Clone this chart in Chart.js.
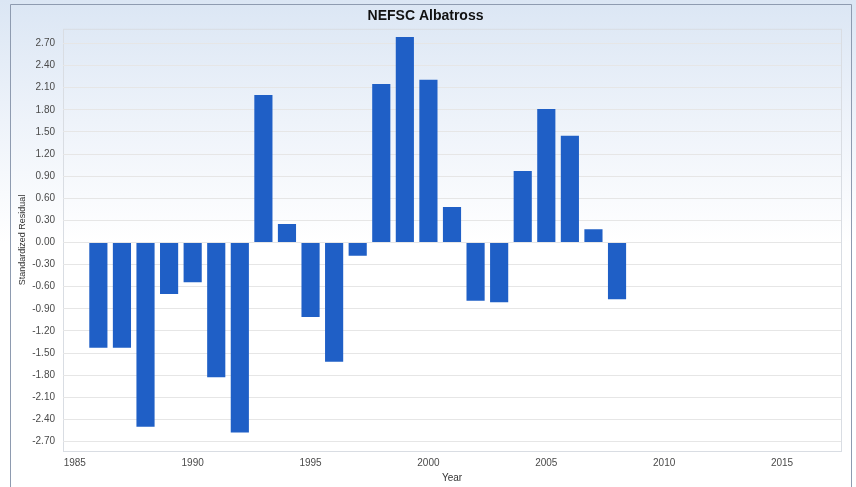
<!DOCTYPE html>
<html>
<head>
<meta charset="utf-8">
<script src="https://cdn.jsdelivr.net/npm/chart.js@4"></script>
<style>
  html, body { margin: 0; padding: 0; background: #ffffff; }
  #wrap { width: 856px; height: 487px; }
</style>
</head>
<body>
<div id="wrap"><canvas id="residChart" width="856" height="487"></canvas></div>
<script>
// survey years and standardized residuals
const years = [1986, 1987, 1988, 1989, 1990, 1991, 1992, 1993, 1994, 1995, 1996, 1997,
  1998, 1999, 2000, 2001, 2002, 2003, 2004, 2005, 2006, 2007, 2008];
const residuals = [-1.43, -1.43, -2.50, -0.70, -0.54, -1.83, -2.58, 2.00, 0.25, -1.01, -1.62, -0.18,
  2.15, 2.79, 2.21, 0.48, -0.79, -0.81, 0.97, 1.81, 1.45, 0.18, -0.77];

// axis ticks
const yTicks = [-2.70, -2.40, -2.10, -1.80, -1.50, -1.20, -0.90, -0.60, -0.30, 0.00,
  0.30, 0.60, 0.90, 1.20, 1.50, 1.80, 2.10, 2.40, 2.70];
const xTicks = [1985, 1990, 1995, 2000, 2005, 2010, 2015];

// background + frame
const backdrop = {
  id: 'backdrop',
  beforeDraw(chart) {
    const { ctx, width, height, chartArea } = chart;
    ctx.save();
    const g = ctx.createLinearGradient(0, 0, 0, height);
    g.addColorStop(0, '#dbe6f4');
    g.addColorStop(0.25, '#eef3fa');
    g.addColorStop(0.5, '#ffffff');
    g.addColorStop(1, '#ffffff');
    ctx.fillStyle = g;
    ctx.fillRect(0, 0, width, height);
    ctx.strokeStyle = '#8e9bb0';
    ctx.lineWidth = 1;
    ctx.beginPath();
    ctx.moveTo(10.5, height);
    ctx.lineTo(10.5, 4.5);
    ctx.lineTo(width - 4.5, 4.5);
    ctx.lineTo(width - 4.5, height);
    ctx.stroke();
    ctx.strokeStyle = '#d9dde3';
    ctx.strokeRect(chartArea.left + 0.5, chartArea.top + 0.5,
      chartArea.right - chartArea.left, chartArea.bottom - chartArea.top);
    ctx.restore();
  }
};

const ctx = document.getElementById('residChart').getContext('2d');
new Chart(ctx, {
  type: 'bar',
  data: {
    datasets: [{
      label: 'Standardized Residual',
      data: years.map((y, i) => ({ x: y, y: residuals[i] })),
      backgroundColor: '#1f5fc6',
      borderWidth: 0,
      barPercentage: 0.77,
      categoryPercentage: 1.0,
    }]
  },
  options: {
    responsive: false,
    animation: false,
    layout: { padding: { left: 10, right: 15, top: 4, bottom: 3 } },
    plugins: {
      legend: { display: false },
      tooltip: { enabled: false },
      title: {
        display: true,
        text: 'NEFSC Albatross',
        color: '#111111',
        font: { family: 'Liberation Sans, Arial, sans-serif', size: 14, weight: 'bold' },
        padding: { top: 4, bottom: 4 },
      },
    },
    scales: {
      x: {
        type: 'linear',
        min: 1984.5,
        max: 2017.5,
        offset: false,
        afterBuildTicks: (scale) => { scale.ticks = xTicks.map(v => ({ value: v })); },
        afterFit: (scale) => { scale.height = 33; },
        grid: { display: false, offset: false, drawTicks: false },
        border: { display: false },
        ticks: {
          color: '#4a4a4a',
          padding: 6,
          font: { family: 'Liberation Sans, Arial, sans-serif', size: 10 },
          callback: (v) => String(v),
        },
        title: {
          display: true,
          text: 'Year',
          color: '#333333',
          padding: { top: 0, bottom: 0 },
          font: { family: 'Liberation Sans, Arial, sans-serif', size: 10 },
        },
      },
      y: {
        min: -2.83,
        max: 2.90,
        afterBuildTicks: (scale) => { scale.ticks = yTicks.map(v => ({ value: v })); },
        afterFit: (scale) => { scale.width = 53; },
        grid: { color: '#e6e6e6', drawTicks: false },
        border: { display: false },
        ticks: {
          color: '#4a4a4a',
          padding: 8,
          font: { family: 'Liberation Sans, Arial, sans-serif', size: 10 },
          callback: (v) => Number(v).toFixed(2),
        },
        title: {
          display: true,
          text: 'Standardized Residual',
          color: '#333333',
          padding: { top: 7, bottom: 0 },
          font: { family: 'Liberation Sans, Arial, sans-serif', size: 9 },
        },
      },
    },
  },
  plugins: [backdrop],
});
</script>
</body>
</html>
